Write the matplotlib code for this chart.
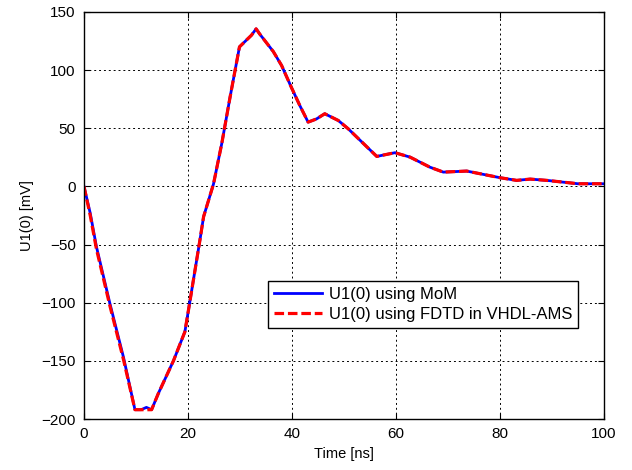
import numpy as np
import matplotlib
matplotlib.use('Agg')
import matplotlib.pyplot as plt

plt.rcParams['font.family'] = ['Liberation Sans', 'DejaVu Sans']

# time axis [ns] and voltage [mV]
t_mom = [0, 1.2, 2.4, 5.0, 7.6, 9.8, 11.0, 12.0, 13.0, 14.3, 17.2, 19.4, 20.4,
         22.3, 23.0, 24.9, 26.5, 28.1, 29.9, 32.2, 33.1, 33.8, 36.4, 38.0,
         39.9, 41.5, 43.1, 44.7, 46.3, 48.9, 50.8, 56.3, 59.8, 62.7, 66.5,
         69.1, 73.6, 80.0, 83.2, 85.8, 89.0, 92.1, 95.0, 100.0]
u_mom = [0, -23, -52, -101, -147, -192, -192, -190, -192, -178, -150, -125, -98,
         -46, -26, 2, 37, 77, 120, 130, 135.5, 131, 116, 104,
         85, 69.6, 55.3, 58, 62.5, 56.7, 49.6, 25.8, 29, 25.2, 16.6,
         12.3, 13.2, 7.5, 5.2, 6.3, 5.2, 3.7, 2.3, 2.3]
t_fdtd = t_mom
u_fdtd = [0, -25, -54, -103, -149, -192, -192, -192, -192, -178, -150, -125, -98,
          -46, -26, 2, 37, 77, 120, 130, 135.5, 131, 116, 104,
          85, 69.6, 55.3, 58, 62.5, 56.7, 49.6, 25.8, 29, 25.2, 16.6,
          12.3, 13.2, 7.5, 5.2, 6.3, 5.2, 3.7, 2.3, 2.3]

fig = plt.figure(figsize=(6.32, 4.70), dpi=100)
ax = fig.add_axes([0.1329, 0.1085, 0.8228, 0.866])

ax.plot(t_mom, u_mom, color='#0000ff', lw=2.0, label='U1(0) using MoM')
ax.plot(t_fdtd, u_fdtd, color='#ff0000', lw=2.3, ls=(0, (3, 1.2)),
        label='U1(0) using FDTD in VHDL-AMS')

ax.set_xlim(0, 100); ax.set_ylim(-200, 150)
ax.set_xticks(np.arange(0, 101, 20))
ax.set_yticks(np.arange(-200, 151, 50))
ax.grid(True, color='k', lw=0.7, ls=(0, (2, 3)))
ax.tick_params(direction='in', length=4, width=0.8, top=True, right=True,
               labelsize=11, pad=6)
for s in ax.spines.values():
    s.set_linewidth(1.0)
ax.set_xlabel('Time [ns]', fontsize=10.5, labelpad=4)
ax.set_ylabel('U1(0) [mV]', fontsize=10.5, labelpad=5)

leg = ax.legend(loc='lower left', bbox_to_anchor=(0.354, 0.2236), borderaxespad=0,
                fancybox=False, edgecolor='k', framealpha=1, fontsize=12,
                handlelength=2.9, borderpad=0.35, labelspacing=0.3, handletextpad=0.4)
leg.get_frame().set_linewidth(1.0)

fig.savefig('out.png', dpi=100)
